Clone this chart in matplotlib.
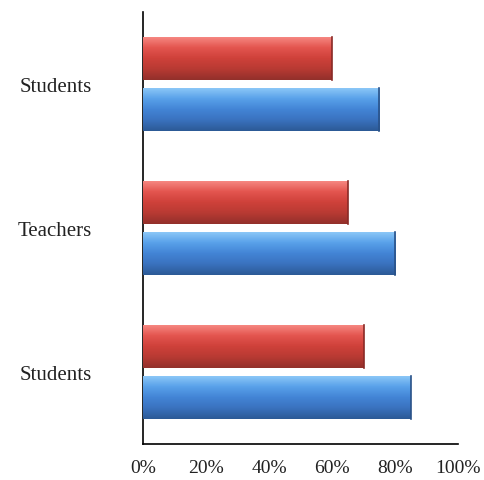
import numpy as np
import matplotlib
matplotlib.use("Agg")
import matplotlib.pyplot as plt
from matplotlib.colors import LinearSegmentedColormap
from matplotlib.ticker import PercentFormatter

# data (bottom to top)
categories = ["Students", "Teachers", "Students"]
blue_vals = [0.85, 0.80, 0.75]
red_vals = [0.70, 0.65, 0.60]
xticks = [0, 0.2, 0.4, 0.6, 0.8, 1.0]

plt.rcParams["font.family"] = ["Liberation Serif", "DejaVu Serif"]

fig = plt.figure(figsize=(4.84, 4.81), dpi=100)
ax = fig.add_axes([143 / 484, 1 - 445 / 481, 315 / 484, 432 / 481])

blue_cmap = LinearSegmentedColormap.from_list(
    "b", ["#2c5a96", "#3a72bf", "#4385d6", "#5aa2ea", "#8fcaf8"])
red_cmap = LinearSegmentedColormap.from_list(
    "r", ["#93302b", "#b83a33", "#cf413a", "#e45650", "#f78b85"])

y = np.arange(len(categories))
h = 0.30
off = 0.175


def gradient_bars(ys, vals, cmap, edge):
    bars = ax.barh(ys, vals, height=h, color=cmap(0.5), edgecolor="none", zorder=2)
    grad = np.linspace(0, 1, 64).reshape(-1, 1)
    for b in bars:
        x0, y0 = b.get_x(), b.get_y()
        w, hh = b.get_width(), b.get_height()
        im = ax.imshow(grad, cmap=cmap, aspect="auto", origin="lower",
                       extent=[x0, x0 + w, y0, y0 + hh], zorder=3)
        im.set_clip_path(b)
        ax.plot([x0 + w, x0 + w], [y0, y0 + hh], color=edge, lw=1.2, zorder=4)


gradient_bars(y - off, blue_vals, blue_cmap, "#2a5288")
gradient_bars(y + off, red_vals, red_cmap, "#8a2a26")

ax.set_xlim(0, 1)
ax.set_ylim(-0.5, 2.5)
ax.set_xticks(xticks)
ax.xaxis.set_major_formatter(PercentFormatter(1.0, decimals=0))
ax.set_yticks(y)
ax.set_yticklabels(categories)
ax.tick_params(axis="both", length=0, labelsize=14, colors="#222222")
ax.tick_params(axis="x", pad=11)
ax.tick_params(axis="y", pad=37, labelsize=15)

ax.spines["top"].set_visible(False)
ax.spines["right"].set_visible(False)
ax.spines["left"].set_color("black")
ax.spines["bottom"].set_color("black")
ax.spines["left"].set_linewidth(1.2)
ax.spines["bottom"].set_linewidth(1.2)

fig.savefig("out.png", dpi=100)
